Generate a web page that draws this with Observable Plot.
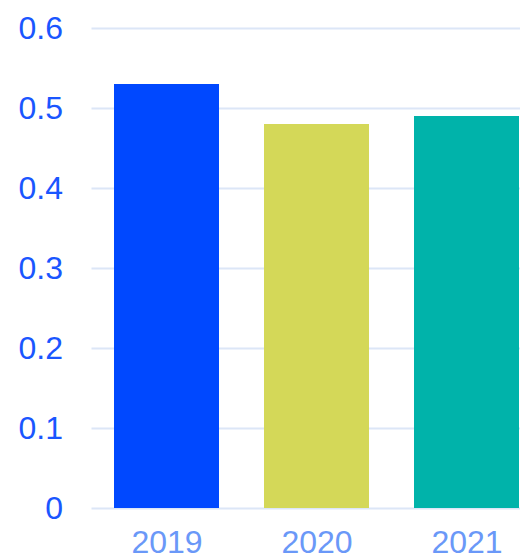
<!DOCTYPE html>
<html>
<head>
<meta charset="utf-8">
<script src="https://cdn.jsdelivr.net/npm/d3@7"></script>
<script src="https://cdn.jsdelivr.net/npm/@observablehq/plot@0.6"></script>
<style>
  html, body { margin: 0; padding: 0; background: #fff; overflow: hidden; }
  #chart svg { display: block; }
</style>
</head>
<body>
<div id="chart"></div>
<script>
const years = ["2019", "2020", "2021"];
const values = [0.53, 0.48, 0.49];
const colors = ["#0048ff", "#d4d858", "#00b3aa"];
const yTicks = [0, 0.1, 0.2, 0.3, 0.4, 0.5, 0.6];

const data = years.map((y, i) => ({year: y, value: values[i], color: colors[i]}));

const chart = Plot.plot({
  width: 520,
  height: 557,
  marginLeft: 91.5,
  marginRight: 0,
  marginTop: 28,
  marginBottom: 49,
  style: {fontFamily: "'Liberation Sans', Arial, sans-serif", fontSize: "32px", background: "#fff", overflow: "hidden"},
  x: {domain: years, range: [91.5, 541.5], paddingInner: 0.3, paddingOuter: 0.15, label: null},
  y: {domain: [0, 0.6], label: null},
  marks: [
    Plot.gridY(yTicks, {stroke: "#dce6f7", strokeOpacity: 1, strokeWidth: 2}),
    Plot.barY(data, {x: "year", y: "value", fill: "color"}),
    Plot.axisY(yTicks, {tickSize: 0, tickPadding: 29, fill: "#1a56ff", fontSize: 32,
      tickFormat: d => d === 0 ? "0" : d.toFixed(1)}),
    Plot.axisX({tickSize: 0, tickPadding: 22, fill: "#6a98f8", fontSize: 32})
  ]
});
document.getElementById("chart").appendChild(chart);
</script>
</body>
</html>
